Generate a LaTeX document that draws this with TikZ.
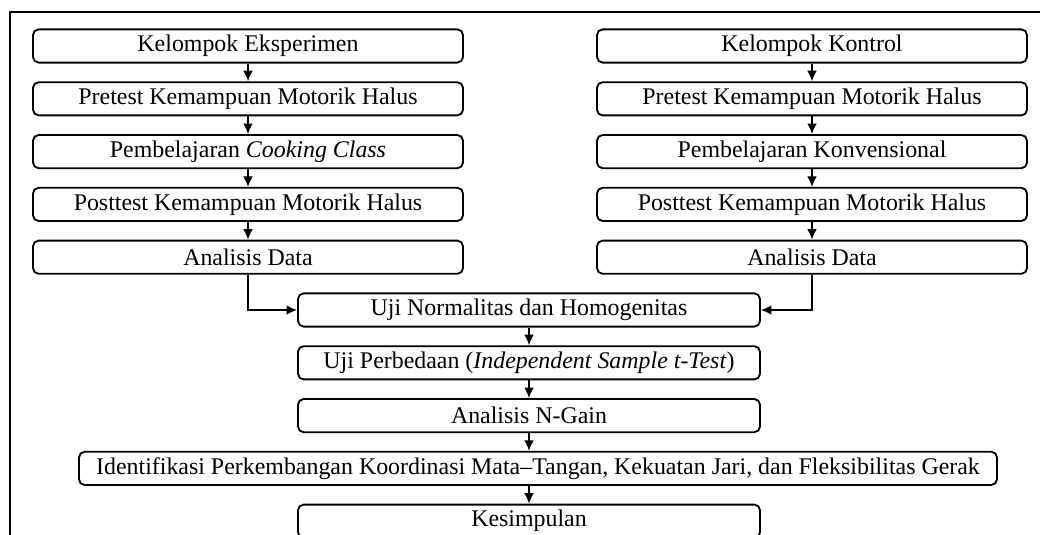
\documentclass[tikz,border=0pt]{standalone}
\usepackage{fontspec}
\setmainfont{Liberation Serif}
\usetikzlibrary{arrows.meta}

\begin{document}
\begin{tikzpicture}[
    node distance=1.32cm,
    box/.style={rectangle, rounded corners=4pt, draw, line width=1.3pt, fill=white, minimum width=10.75cm, minimum height=0.83cm, inner sep=2pt, font=\fontsize{17}{20}\selectfont},
    midbox/.style={box, minimum width=11.55cm},
    arrow/.style={-{Latex[length=7.5pt,width=7pt]}, line width=1.3pt}
  ]
  \useasboundingbox (0,0) rectangle (26,13.375);

  % Outer frame
  \draw[line width=1.3pt] (0.25,0) -- (0.25,13.075) -- (26,13.075);

  % Define experiment nodes
  \node[box] (E1) at (6.2,12.225) {Kelompok Eksperimen};
  \node[box, below of=E1] (E2) {Pretest Kemampuan Motorik Halus};
  \node[box, below of=E2] (E3) {Pembelajaran \textit{Cooking Class}};
  \node[box, below of=E3] (E4) {Posttest Kemampuan Motorik Halus};
  \node[box, below of=E4] (E5) {Analisis Data};

  % Define control nodes
  \node[box, right of=E1, node distance=14.1cm] (K1) {Kelompok Kontrol};
  \node[box, below of=K1] (K2) {Pretest Kemampuan Motorik Halus};
  \node[box, below of=K2] (K3) {Pembelajaran Konvensional};
  \node[box, below of=K3] (K4) {Posttest Kemampuan Motorik Halus};
  \node[box, below of=K4] (K5) {Analisis Data};

  % Define shared nodes
  \node[midbox] (U1) at (13.225,5.625) {Uji Normalitas dan Homogenitas};
  \node[midbox, below of=U1] (U2) {Uji Perbedaan (\textit{Independent Sample t-Test})};
  \node[midbox, below of=U2] (U3) {Analisis N-Gain};
  \node[box, below of=U3, xshift=0.225cm, minimum width=22.95cm] (U4) {Identifikasi Perkembangan Koordinasi Mata--Tangan, Kekuatan Jari, dan Fleksibilitas Gerak};
  \node[midbox, below of=U4, xshift=-0.225cm] (U5) {Kesimpulan};

  % Draw arrows
  \draw[arrow] (E1) -- (E2);
  \draw[arrow] (E2) -- (E3);
  \draw[arrow] (E3) -- (E4);
  \draw[arrow] (E4) -- (E5);
  \draw[arrow] (K1) -- (K2);
  \draw[arrow] (K2) -- (K3);
  \draw[arrow] (K3) -- (K4);
  \draw[arrow] (K4) -- (K5);
  \draw[arrow] (E5.south) |- (U1.west);
  \draw[arrow] (K5.south) |- (U1.east);
  \draw[arrow] (U1) -- (U2);
  \draw[arrow] (U2) -- (U3);
  \draw[arrow] (U3.south) -- (U3.south |- U4.north);
  \draw[arrow] (U4.south -| U5.north) -- (U5);
\end{tikzpicture}
\end{document}
